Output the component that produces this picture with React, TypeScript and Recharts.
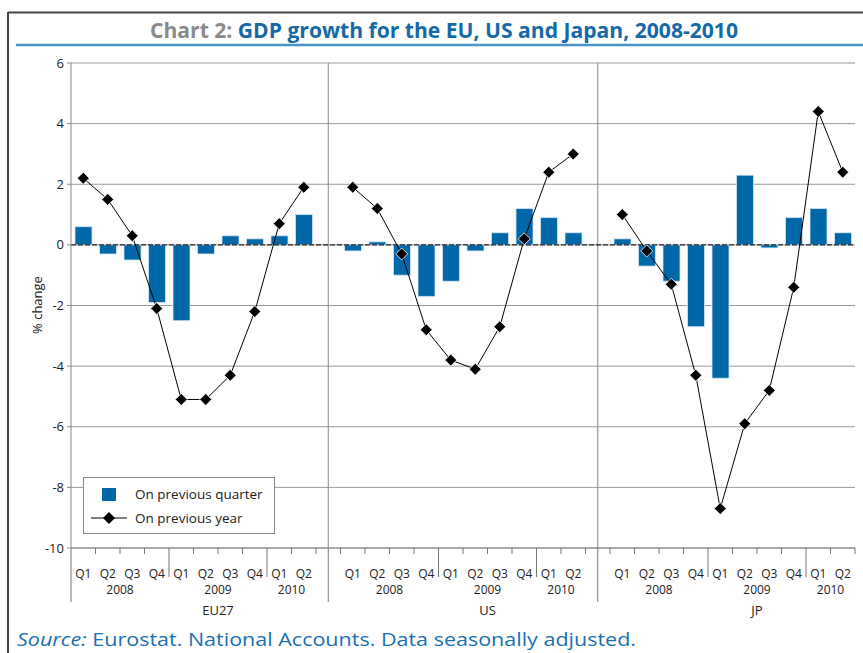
import React from 'react'
import { ComposedChart, Bar, Line, XAxis, YAxis, CartesianGrid, ReferenceLine } from 'recharts'

const regions = ['EU27', 'US', 'JP']
const quarterLabels = ['Q1', 'Q2', 'Q3', 'Q4', 'Q1', 'Q2', 'Q3', 'Q4', 'Q1', 'Q2']
const yearLabels = ['2008', '2009', '2010']
const yTicks = [-10, -8, -6, -4, -2, 0, 2, 4, 6]

// on previous quarter / on previous year, 2008Q1..2010Q2
const euQoq = [0.6, -0.3, -0.5, -1.9, -2.5, -0.3, 0.3, 0.2, 0.3, 1.0]
const euYoy = [2.2, 1.5, 0.3, -2.1, -5.1, -5.1, -4.3, -2.2, 0.7, 1.9]
const usQoq = [-0.2, 0.1, -1.0, -1.7, -1.2, -0.2, 0.4, 1.2, 0.9, 0.4]
const usYoy = [1.9, 1.2, -0.3, -2.8, -3.8, -4.1, -2.7, 0.2, 2.4, 3.0]
const jpQoq = [0.2, -0.7, -1.2, -2.7, -4.4, 2.3, -0.1, 0.9, 1.2, 0.4]
const jpYoy = [1.0, -0.2, -1.3, -4.3, -8.7, -5.9, -4.8, -1.4, 4.4, 2.4]

const qoqByRegion = [euQoq, usQoq, jpQoq]
const yoyByRegion = [euYoy, usYoy, jpYoy]

type Row = { key: string; qi: number; region: string; qoq: number | null; yoy: number | null; gap?: boolean }

const rows: Row[] = []
regions.forEach((r, ri) => {
  if (ri > 0) rows.push({ key: 'gap' + ri, qi: -1, region: '', qoq: null, yoy: null, gap: true })
  quarterLabels.forEach((_, qi) => {
    rows.push({ key: r + '-' + qi, qi, region: r, qoq: qoqByRegion[ri][qi], yoy: yoyByRegion[ri][qi] })
  })
})

const BLUE = '#0068a9'
const FONT = '"Open Sans", "DejaVu Sans", sans-serif'
const PLOT_W = 863 - 71 - 8
const HALF = PLOT_W / rows.length / 2

function yearOf(qi: number) {
  return qi < 4 ? 0 : qi < 8 ? 1 : 2
}

const XTick = (props: any) => {
  const { x, y, payload } = props
  const idx = rows.findIndex((r) => r.key === payload.value)
  const row = rows[idx]
  if (!row) return null
  const els: React.ReactNode[] = []
  const lx = x - HALF
  if (idx === 0) {
    els.push(<line key="l" x1={lx} x2={lx} y1={y} y2={y + 54} stroke="#777" />)
  } else if (row.qi === 4 || row.qi === 8) {
    els.push(<line key="l" x1={lx} x2={lx} y1={y} y2={y + 29} stroke="#777" />)
  } else {
    els.push(<line key="l" x1={lx} x2={lx} y1={y} y2={y + 6} stroke="#777" />)
  }
  if (idx === rows.length - 1) {
    els.push(<line key="r" x1={x + HALF} x2={x + HALF} y1={y} y2={y + 6} stroke="#777" />)
  }
  if (row.gap) {
    els.push(<line key="g" x1={x} x2={x} y1={y} y2={y + 54} stroke="#777" />)
  } else {
    els.push(
      <text key="q" x={x} y={y + 30} textAnchor="middle" fontSize={12} fill="#222" fontFamily={FONT}>
        {quarterLabels[row.qi]}
      </text>
    )
    if (row.qi === 1 || row.qi === 5 || row.qi === 8) {
      els.push(
        <text key="y" x={x + HALF} y={y + 46} textAnchor="middle" fontSize={12} fill="#222" fontFamily={FONT}>
          {yearLabels[yearOf(row.qi)]}
        </text>
      )
    }
    if (row.qi === 5) {
      els.push(
        <text key="r" x={x + HALF} y={y + 67} textAnchor="middle" fontSize={13} fill="#222" fontFamily={FONT}>
          {row.region}
        </text>
      )
    }
  }
  return <g>{els}</g>
}

const Diamond = (props: any) => {
  const { cx, cy, value } = props
  if (value == null || cx == null || cy == null) return <g />
  const s = 6
  return (
    <path
      d={`M${cx},${cy - s}L${cx + s},${cy}L${cx},${cy + s}L${cx - s},${cy}Z`}
      fill="#000"
      stroke="#fff"
      strokeWidth={0.8}
    />
  )
}

export default function App() {
  return (
    <div style={{ position: 'absolute', left: 0, top: 0, width: 863, height: 653, overflow: 'hidden', background: '#fff' }}>
      <div style={{ position: 'absolute', left: 0, top: 0 }}>
        <ComposedChart
          width={863}
          height={620}
          data={rows}
          margin={{ top: 63, right: 8, left: 0, bottom: 6 }}
        >
          <CartesianGrid vertical={false} stroke="#999" />
          <XAxis
            dataKey="key"
            type="category"
            interval={0}
            height={66}
            tickLine={false}
            tickSize={0}
            tickMargin={0}
            axisLine={{ stroke: '#888' }}
            tick={<XTick />}
          />
          <YAxis
            width={71}
            domain={[-10, 6]}
            ticks={yTicks}
            interval={0}
            tickSize={4}
            tickMargin={3}
            tickLine={{ stroke: '#888' }}
            axisLine={{ stroke: '#888' }}
            tick={{ fontSize: 13, fill: '#222', fontFamily: FONT }}
          />
          <ReferenceLine x="gap1" stroke="#888" />
          <ReferenceLine x="gap2" stroke="#888" />
          <ReferenceLine y={0} stroke="#000" strokeDasharray="5 2" />
          <Bar dataKey="qoq" fill={BLUE} stroke="#d6e6f2" strokeWidth={0.8} barSize={17} isAnimationActive={false} />
          <Line
            dataKey="yoy"
            type="linear"
            stroke="#000"
            strokeWidth={1}
            connectNulls={false}
            dot={<Diamond />}
            activeDot={false}
            isAnimationActive={false}
          />
        </ComposedChart>
      </div>

      <svg width={863} height={653} style={{ position: 'absolute', left: 0, top: 0, pointerEvents: 'none' }}>
        <line x1={8} x2={863} y1={12.5} y2={12.5} stroke="#444" strokeWidth={2} />
        <line x1={8} x2={8} y1={12} y2={653} stroke="#444" strokeWidth={2} />
        <line x1={16} x2={863} y1={45} y2={45} stroke="#4a92c8" strokeWidth={2.5} />
        <text x={444} y={38} textAnchor="middle" fontSize={22} fontWeight="bold" fontFamily={FONT} textLength={588} lengthAdjust="spacingAndGlyphs">
          <tspan fill="#8a8a8a">Chart 2: </tspan>
          <tspan fill="#1569a8">GDP growth for the EU, US and Japan, 2008-2010</tspan>
        </text>
        <text x={42} y={305} transform="rotate(-90 42 305)" textAnchor="middle" fontSize={13} fill="#222" fontFamily={FONT}>
          % change
        </text>
        <text x={17} y={646} fontSize={19} fill="#1a70b0" fontFamily={FONT} textLength={619} lengthAdjust="spacingAndGlyphs">
          <tspan fontStyle="italic">Source:</tspan> Eurostat. National Accounts. Data seasonally adjusted.
        </text>
      </svg>

      <div
        style={{
          position: 'absolute',
          left: 83,
          top: 477,
          width: 192,
          height: 57,
          boxSizing: 'border-box',
          border: '1px solid #888',
          background: '#fff',
          fontFamily: FONT,
          fontSize: 13.5,
          color: '#222',
        }}
      >
        <svg width={192} height={57} style={{ position: 'absolute', left: -1, top: -1 }}>
          <rect x={19} y={11} width={14} height={13} fill={BLUE} />
          <line x1={8} x2={44} y1={41} y2={41} stroke="#000" />
          <path d="M26,35L32,41L26,47L20,41Z" fill="#000" />
          <text x={52} y={22} fontSize={13.5} fill="#222" fontFamily={FONT}>On previous quarter</text>
          <text x={52} y={46} fontSize={13.5} fill="#222" fontFamily={FONT}>On previous year</text>
        </svg>
      </div>
    </div>
  )
}
